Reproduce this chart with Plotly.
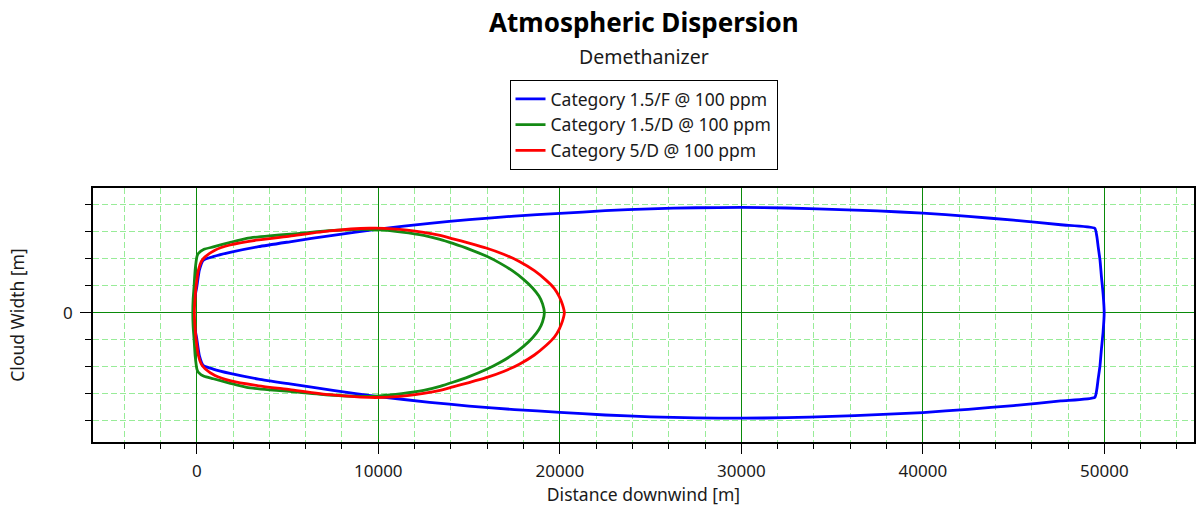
import plotly.graph_objects as go

# Cloud contours (upper half-width vs. downwind distance), mirrored about y=0
x_15F = [-180, -150, 0, 143, 363, 900, 1830, 3400, 5130, 7500, 10000, 12830, 15000, 17500,
         20000, 22500, 25000, 27500, 30000, 32500, 35000, 37500, 40000, 42500, 45000,
         47600, 49470, 49580, 49660, 49760, 49840, 49930, 49990]
w_15F = [0, 40, 96, 158, 195, 208, 224, 245, 263, 287, 310, 331, 345, 358,
         368, 378, 385, 389, 390, 388, 383, 377, 369, 357, 343,
         326, 313, 285, 244, 195, 133, 70, 0]

x_15D = [-220, -200, -150, -90, 15, 90, 400, 910, 1800, 2750, 4000, 5130, 7300, 9000,
         10080, 11300, 12500, 13400, 14110, 15000, 15940, 16700, 17400, 18000, 18500,
         18850, 19050, 19150]
w_15D = [0, 50, 96, 158, 210, 220, 235, 244, 260, 276, 285, 291, 304, 309,
         307, 299, 287, 272, 257, 236, 210, 184, 155, 124, 92,
         62, 33, 0]

x_5D = [-130, -100, -40, 90, 250, 456, 1000, 1830, 3400, 5130, 7300, 9500, 10800,
        12500, 13400, 14110, 15000, 15940, 16900, 17770, 18600, 19240, 19700, 19970,
        20150, 20250]
w_5D = [0, 50, 96, 158, 190, 207, 232, 251, 270, 284, 303, 313, 311,
        298, 287, 274, 258, 240, 217, 190, 156, 121, 90, 60,
        30, 0]

series = [
    ("Category 1.5/F @ 100 ppm", x_15F, w_15F, "#0000ff"),
    ("Category 1.5/D @ 100 ppm", x_15D, w_15D, "#148a14"),
    ("Category 5/D @ 100 ppm", x_5D, w_5D, "#ff0000"),
]

FONT = "Noto Sans"
TEXT = "#1a1a1a"
fig = go.Figure()
for name, xs, ws, color in series:
    # closed outline: upper edge left->right, then lower edge right->left
    x_full = list(xs) + list(xs[::-1])[1:]
    y_full = list(ws) + [-v for v in ws[::-1]][1:]
    fig.add_trace(go.Scatter(
        x=x_full, y=y_full, mode="lines", name=name,
        line=dict(color=color, width=2.8, shape="spline", smoothing=0.5),
    ))

major_grid = "#0a8a0a"
minor_grid = "#98ec98"

fig.update_layout(
    width=1203, height=509,
    margin=dict(l=93, r=7, t=188, b=67),
    paper_bgcolor="white", plot_bgcolor="white",
    font=dict(family=FONT, size=17, color=TEXT),
    showlegend=True,
    legend=dict(
        xref="paper", x=0.5, xanchor="center",
        yref="container", y=0.843, yanchor="top",
        bordercolor="black", borderwidth=1, bgcolor="white",
        font=dict(family=FONT, size=17.5, color=TEXT),
        traceorder="normal",
    ),
    xaxis=dict(
        range=[-5717, 54938], dtick=10000, tick0=0, tickformat="d",
        showgrid=True, gridcolor=major_grid, gridwidth=1,
        zeroline=False,
        showline=True, linecolor="black", linewidth=1.5, mirror=True,
        ticks="outside", ticklen=10, tickcolor="black", tickwidth=1,
        ticklabelstandoff=3,
        tickfont=dict(family=FONT, size=17, color=TEXT),
        minor=dict(dtick=2000, tick0=0, ticks="outside", ticklen=5, tickcolor="black",
                   showgrid=True, gridcolor=minor_grid, griddash="6px,3px", gridwidth=1),
        title=dict(text="Distance downwind [m]", font=dict(family=FONT, size=17.5, color=TEXT),
                   standoff=4),
    ),
    yaxis=dict(
        range=[-478, 462], dtick=1000, tick0=0,
        showgrid=True, gridcolor=major_grid, gridwidth=1,
        zeroline=False,
        showline=True, linecolor="black", linewidth=1.5, mirror=True,
        ticks="outside", ticklen=11, tickcolor="black", tickwidth=1,
        ticklabelstandoff=4,
        tickfont=dict(family=FONT, size=17, color=TEXT),
        minor=dict(dtick=100, tick0=0, ticks="outside", ticklen=6, tickcolor="black",
                   showgrid=True, gridcolor=minor_grid, griddash="6px,3px", gridwidth=1),
        title=dict(text="Cloud Width [m]", font=dict(family=FONT, size=17.5, color=TEXT),
                   standoff=34),
    ),
    annotations=[
        dict(text="<b>Atmospheric Dispersion</b>", xref="paper", x=0.5, xanchor="center",
             yref="paper", y=1 + (188 - 22) / 254, yanchor="middle", showarrow=False,
             font=dict(family=FONT, size=26, color="black")),
        dict(text="Demethanizer", xref="paper", x=0.5, xanchor="center",
             yref="paper", y=1 + (188 - 56) / 254, yanchor="middle", showarrow=False,
             font=dict(family=FONT, size=19.5, color=TEXT)),
    ],
)

fig.write_html("out.html")
